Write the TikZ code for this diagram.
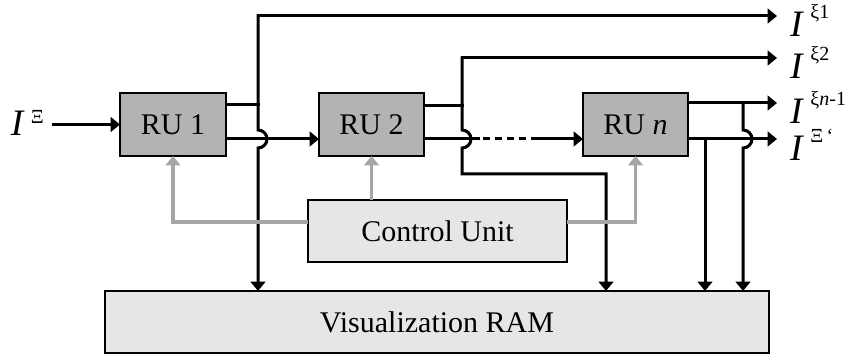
\documentclass[tikz,border=0pt]{standalone}
\usepackage{fontspec}
\setmainfont{Liberation Serif}
\usetikzlibrary{arrows.meta}
\definecolor{rugray}{HTML}{B3B3B3}
\definecolor{boxlight}{HTML}{E6E6E6}
\definecolor{ctlgray}{HTML}{A6A6A6}
\newcommand\lbl[3]{{\fontsize{28pt}{28pt}\selectfont\itshape I}\hspace{#3}\raisebox{#2}{\fontsize{15pt}{15pt}\selectfont #1}}
\begin{document}
\begin{tikzpicture}[x=0.75pt,y=-0.75pt,
  ru/.style={draw=black, line width=1.75pt, fill=rugray, inner sep=0pt, outer sep=0pt, font=\fontsize{22.5pt}{24pt}\selectfont},
  wide/.style={draw=black, line width=1.75pt, fill=boxlight, inner sep=0pt, outer sep=0pt, font=\fontsize{22.5pt}{24pt}\selectfont},
  sig/.style={line width=2.25pt, draw=black, line cap=rect},
  sigarr/.style={sig, -{Triangle[length=7pt,width=11pt]}},
  ctl/.style={line width=2.4pt, draw=ctlgray, -{Triangle[length=7pt,width=11pt]}},
  lab/.style={anchor=base west, inner sep=0pt, outer sep=0pt}]
\useasboundingbox (0,0) rectangle (850,356);

% boxes
\node[ru, minimum width=79.5pt, minimum height=47.25pt] (RU1) at (173,124.5) {RU 1};
\node[ru, minimum width=78.75pt, minimum height=47.25pt] (RU2) at (371.5,124.5) {RU 2};
\node[ru, minimum width=78.75pt, minimum height=47.25pt] (RUn) at (635.5,124.5) {RU \textit{n}};
\node[wide, minimum width=194.25pt, minimum height=46.5pt] (CU) at (437.5,231) {Control Unit};
\node[wide, minimum width=498pt, minimum height=46.5pt] (RAM) at (437,322) {Visualization RAM};

% labels
\node[lab] (Lin) at (11,136) {\lbl{Ξ}{9.5pt}{5.5pt}};
\node[lab] (L1) at (790,37) {\lbl{ξ1}{14pt}{6pt}};
\node[lab] (L2) at (790,79) {\lbl{ξ2}{14pt}{6pt}};
\node[lab] (L3) at (790,124) {\lbl{ξ\textit{n}-1}{14pt}{6pt}};
\node[lab] (L4) at (790,161) {\lbl{Ξ\,‘}{14pt}{6pt}};

% helper coordinates
\coordinate (ylo) at (0,139);
\coordinate (h1) at (0,130);
\coordinate (yg) at (0,222);
\coordinate (e1) at (777,16);
\coordinate (e2) at (777,58);
\coordinate (e3) at (777,103);
\coordinate (e4) at (777,139);
\coordinate (v1) at (258,105);
\coordinate (v2) at (462,106);
\coordinate (v3) at (743,103);
\coordinate (v4) at (705,139);
\coordinate (b2) at (606,174);
\coordinate (d1) at (478,139);
\coordinate (d2) at (538,139);

% input
\draw[sigarr, line cap=butt, shorten <=6pt] (Lin.east |- RU1.west) -- (RU1.west);

% RU1 outputs
\draw[sig] (RU1.east |- v1) -- (v1);
\draw[sigarr] (v1 |- e1) -- (e1);
\draw[sigarr] (v1 |- e1) -- (v1 |- h1) arc[start angle=90, end angle=-90, radius=6.75pt] -- (v1 |- RAM.north);
\draw[sigarr] (RU1.east |- ylo) -- (RU2.west |- ylo);

% RU2 outputs
\draw[sig] (RU2.east |- v2) -- (v2);
\draw[sigarr] (v2 |- e2) -- (e2);
\draw[sigarr] (v2 |- e2) -- (v2 |- h1) arc[start angle=90, end angle=-90, radius=6.75pt] -- (v2 |- b2) -- (b2) -- (b2 |- RAM.north);
\draw[sig] (RU2.east |- ylo) -- (d1);
\draw[line width=2.25pt, dash pattern=on 5.25pt off 3.75pt, dash phase=5.25pt] (d1) -- (d2);
\draw[sigarr] (d2) -- (RUn.west |- ylo);

% RUn outputs
\draw[sigarr] (RUn.east |- e3) -- (e3);
\draw[sigarr] (v3) -- (v3 |- h1) arc[start angle=90, end angle=-90, radius=6.75pt] -- (v3 |- RAM.north);
\draw[sigarr] (RUn.east |- e4) -- (e4);
\draw[sigarr] (v4) -- (v4 |- RAM.north);

% control lines
\draw[ctl] (CU.west |- yg) -| (RU1.south);
\draw[ctl] (CU.north -| RU2.south) -- (RU2.south);
\draw[ctl] (CU.east |- yg) -| (RUn.south);
\end{tikzpicture}
\end{document}
